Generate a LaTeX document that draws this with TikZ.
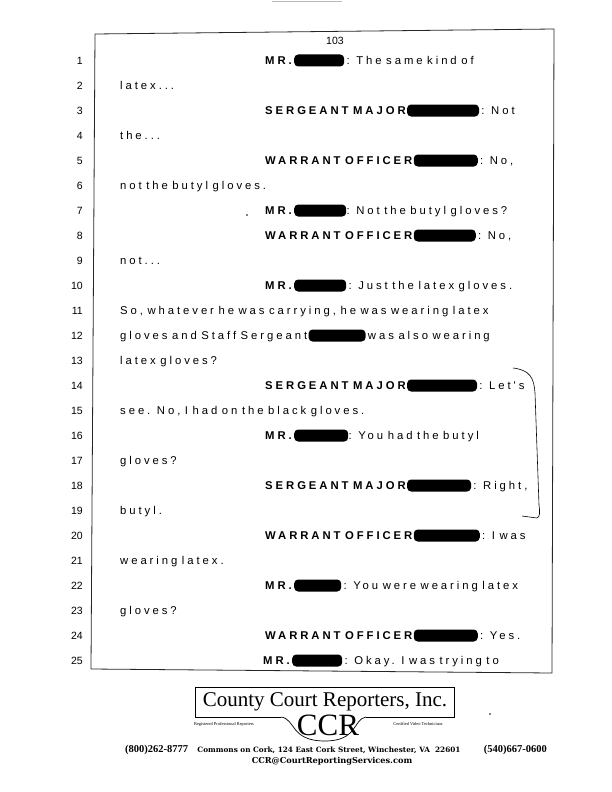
\documentclass[tikz,border=0pt]{standalone}
\usepackage{fontspec}
\usepackage{tikz}
\usetikzlibrary{positioning}
\newfontfamily\numfont{Liberation Sans}
\newfontfamily\transfont[LetterSpace=26,WordSpace=0.75]{Liberation Sans}
\newfontfamily\logofont{Liberation Serif}
\newfontfamily\addrfont{DejaVu Serif}
\tikzset{
  num/.style={anchor=base east, inner sep=0pt, font=\numfont\fontsize{10.5}{12}\selectfont},
  line/.style={inner sep=0pt, text height=9pt, text depth=2pt, font=\transfont\fontsize{11.3}{13}\selectfont},
  tag/.style={line, font=\transfont\bfseries\fontsize{11.3}{13}\selectfont},
  redact/.style={fill=black, rounded corners=4pt, inner sep=0pt, minimum height=12pt},
  frame/.style={draw=black!85, line width=0.8pt},
  logoline/.style={draw=black, line width=0.7pt},
}
\begin{document}
\begin{tikzpicture}[x=1pt,y=-1pt]
\useasboundingbox (0,0) rectangle (612,792);
% page frame and marks
\draw[gray!55, line width=1pt] (272,2) -- (342,2);
\coordinate (tl) at (95,34);
\coordinate (tr) at (554,29);
\coordinate (br) at (552,673);
\coordinate (bl) at (91,669);
\draw[frame] (tl) -- (tr) -- (br) -- (bl) -- cycle;
\node[font=\numfont\fontsize{10.5}{12}\selectfont] (page) at (335,41) {103};
\foreach \n in {1,...,25}
  \node[num] (n\n) at (83,{64+25*(\n-1)}) {\n};
% transcript
\node[tag, anchor=base west] (s1) at (265,64) {MR.};
\node[redact, minimum width=50pt, right=2pt of s1] (r1) {};
\node[line, right=2pt of r1] (q1) {: The same kind of};
\node[line, anchor=base west] (c2) at (120,89) {latex...};
\node[tag, anchor=base west] (s3) at (265,114) {SERGEANT MAJOR};
\node[redact, minimum width=72pt, right=1pt of s3] (r3) {};
\node[line, right=2pt of r3] (q3) {: Not};
\node[line, anchor=base west] (c4) at (120,139) {the...};
\node[tag, anchor=base west] (s5) at (265,164) {WARRANT OFFICER};
\node[redact, minimum width=64pt, right=1pt of s5] (r5) {};
\node[line, right=2pt of r5] (q5) {: No,};
\node[line, anchor=base west] (c6) at (120,189) {not the butyl gloves.};
\node[tag, anchor=base west] (s7) at (265,214) {MR.};
\node[redact, minimum width=52pt, right=2pt of s7] (r7) {};
\node[line, right=0pt of r7] (q7) {: Not the butyl gloves?};
\fill (247,215) circle (0.8pt);
\node[tag, anchor=base west] (s8) at (265,239) {WARRANT OFFICER};
\node[redact, minimum width=62pt, right=1pt of s8] (r8) {};
\node[line, right=2pt of r8] (q8) {: No,};
\node[line, anchor=base west] (c9) at (120,264) {not...};
\node[tag, anchor=base west] (s10) at (265,289) {MR.};
\node[redact, minimum width=52pt, right=2pt of s10] (r10) {};
\node[line, right=2pt of r10] (q10) {: Just the latex gloves.};
\node[line, anchor=base west] (c11) at (120,314) {So, whatever he was carrying, he was wearing latex};
\node[line, anchor=base west] (c12) at (120,339) {gloves and Staff Sergeant};
\node[redact, minimum width=57pt, right=1pt of c12] (r12) {};
\node[line, right=2pt of r12] (q12) {was also wearing};
\node[line, anchor=base west] (c13) at (120,364) {latex gloves?};
\node[tag, anchor=base west] (s14) at (265,389) {SERGEANT MAJOR};
\node[redact, minimum width=70pt, right=1pt of s14] (r14) {};
\node[line, right=2pt of r14] (q14) {: Let's};
\node[line, anchor=base west] (c15) at (120,414) {see. No, I had on the black gloves.};
\node[tag, anchor=base west] (s16) at (265,439) {MR.};
\node[redact, minimum width=54pt, right=2pt of s16] (r16) {};
\node[line, right=0pt of r16] (q16) {: You had the butyl};
\node[line, anchor=base west] (c17) at (120,464) {gloves?};
\node[tag, anchor=base west] (s18) at (265,489) {SERGEANT MAJOR};
\node[redact, minimum width=64pt, right=1pt of s18] (r18) {};
\node[line, right=2pt of r18] (q18) {: Right,};
\node[line, anchor=base west] (c19) at (120,514) {butyl.};
\node[tag, anchor=base west] (s20) at (265,539) {WARRANT OFFICER};
\node[redact, minimum width=66pt, right=1pt of s20] (r20) {};
\node[line, right=2pt of r20] (q20) {: I was};
\node[line, anchor=base west] (c21) at (120,564) {wearing latex.};
\node[tag, anchor=base west] (s22) at (265,589) {MR.};
\node[redact, minimum width=47pt, right=2pt of s22] (r22) {};
\node[line, right=2pt of r22] (q22) {: You were wearing latex};
\node[line, anchor=base west] (c23) at (120,614) {gloves?};
\node[tag, anchor=base west] (s24) at (265,639) {WARRANT OFFICER};
\node[redact, minimum width=64pt, right=1pt of s24] (r24) {};
\node[line, right=2pt of r24] (q24) {: Yes.};
\node[tag, anchor=base west] (s25) at (263,664) {MR.};
\node[redact, minimum width=50pt, right=2pt of s25] (r25) {};
\node[line, right=2pt of r25] (q25) {: Okay. I was trying to};
% margin bracket
\draw[line width=0.6pt] (513,368) .. controls (530,370) and (534,378) .. (535,393)
  -- (539,505) .. controls (540,512) and (540,517) .. (537,518) -- (522,516);
% footer logo
\draw[logoline] (281,717) -- (195,717) -- (195,687) -- (454,687) -- (454,717) -- (366,717);
\draw[logoline] (281,717) .. controls (296,719) and (290,741) .. (325,741)
  .. controls (358,741) and (353,719) .. (366,717);
\node[font=\logofont\fontsize{21}{23}\selectfont] (title) at (325,702) {County Court Reporters, Inc.};
\node[font=\logofont\fontsize{31}{31}\selectfont] (ccr) at (328,725) {CCR};
\node[font=\logofont\fontsize{4.4}{5}\selectfont] (reg) at (224,724) {Registered Professional Reporters};
\node[font=\logofont\fontsize{4.4}{5}\selectfont] (cvt) at (418,724) {Certified Video Technicians};
\fill (490,714) circle (0.8pt);
\node[anchor=west, inner sep=0pt, font=\logofont\bfseries\fontsize{10.5}{12}\selectfont] (tel1) at (125,750) {(800)262-8777};
\node[inner sep=0pt, font=\addrfont\bfseries\fontsize{7.3}{8}\selectfont] (addr) at (329,750) {Commons on Cork, 124 East Cork Street, Winchester, VA\ \ 22601};
\node[anchor=east, inner sep=0pt, font=\logofont\bfseries\fontsize{10.5}{12}\selectfont] (tel2) at (547,750) {(540)667-0600};
\node[inner sep=0pt, font=\addrfont\bfseries\fontsize{8.2}{9}\selectfont] (mail) at (332,761) {CCR@CourtReportingServices.com};
\end{tikzpicture}
\end{document}
